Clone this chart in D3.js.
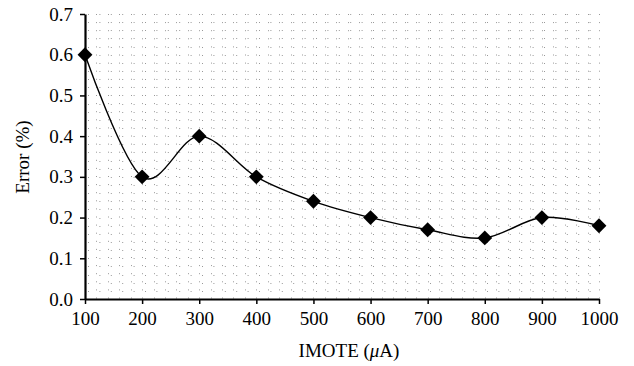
<!DOCTYPE html>
<html><head><meta charset="utf-8">
<script src="https://cdn.jsdelivr.net/npm/d3@7"></script>
<style>body{margin:0;background:#fff}svg{display:block}text{font-family:"Liberation Serif","Times New Roman",serif}</style>
</head><body>
<script>
const xValues = [100, 200, 300, 400, 500, 600, 700, 800, 900, 1000];
const errorValues = [0.60, 0.30, 0.40, 0.30, 0.24, 0.20, 0.17, 0.15, 0.20, 0.18];
const xTicks = [100, 200, 300, 400, 500, 600, 700, 800, 900, 1000];
const yTicks = [0, 0.1, 0.2, 0.3, 0.4, 0.5, 0.6, 0.7];
const xTitle = "IMOTE (";
const yTitle = "Error (%)";

const W = 634, H = 366;
const svg = d3.select("body").append("svg").attr("width", W).attr("height", H);
const x = d3.scaleLinear().domain([100, 1000]).range([85, 599]);
const y = d3.scaleLinear().domain([0, 0.7]).range([299, 14]);

// dotted minor grid
const g = svg.append("g");
const hLines = d3.range(0, 0.7001, 0.02).filter(v => v > 0.001);
const vLines = d3.range(100, 1000.01, 20).filter(v => v > 100.1);
g.selectAll(".h").data(hLines).join("line")
  .attr("x1", x(100) + 3).attr("x2", x(1000))
  .attr("y1", d => Math.round(y(d)) + 0.5).attr("y2", d => Math.round(y(d)) + 0.5)
  .attr("stroke", "#999").attr("stroke-width", 1).attr("stroke-dasharray", "1,10.4");
g.selectAll(".v").data(vLines).join("line")
  .attr("y1", y(0.7)).attr("y2", y(0))
  .attr("x1", d => Math.round(x(d)) + 0.5).attr("x2", d => Math.round(x(d)) + 0.5)
  .attr("stroke", "#999").attr("stroke-width", 1).attr("stroke-dasharray", "1,7.1");

// axes
const xAxis = d3.axisBottom(x).tickValues(xTicks).tickSize(5).tickSizeOuter(0).tickPadding(7).tickFormat(d3.format("d"));
const yAxis = d3.axisLeft(y).tickValues(yTicks).tickSize(5).tickSizeOuter(0).tickPadding(7).tickFormat(d3.format(".1f"));
const gx = svg.append("g").attr("transform", `translate(0,${y(0)})`).call(xAxis);
const gy = svg.append("g").attr("transform", `translate(${x(100)},0)`).call(yAxis);
[gx, gy].forEach(a => {
  a.select(".domain").attr("stroke", "#000").attr("stroke-width", 2.2);
  a.selectAll(".tick line").attr("stroke", "#000").attr("stroke-width", 1.5);
  a.selectAll(".tick text").attr("fill", "#000").style("font-size", "19px");
});
gx.selectAll(".tick text").attr("dy", "0.72em");

// curve
const pts = xValues.map((v, i) => [x(v), y(errorValues[i])]);
svg.append("path").attr("d", d3.line().curve(d3.curveCardinal.tension(0))(pts))
  .attr("fill", "none").attr("stroke", "#000").attr("stroke-width", 1.4);

// markers
svg.selectAll(".m").data(pts).join("path")
  .attr("d", d3.symbol().type(d3.symbolSquare).size(110)())
  .attr("transform", d => `translate(${d[0]},${d[1]}) rotate(45)`)
  .attr("fill", "#000");

// titles
const xt = svg.append("text").attr("x", 349).attr("y", 357).attr("text-anchor", "middle")
  .style("font-size", "19px").attr("fill", "#000");
xt.append("tspan").text(xTitle);
xt.append("tspan").style("font-style", "italic").text("\u03bc");
xt.append("tspan").text("A)");
svg.append("text").attr("transform", "translate(29,157) rotate(-90)").attr("text-anchor", "middle")
  .style("font-size", "19px").attr("fill", "#000").text(yTitle);
</script>
</body></html>
